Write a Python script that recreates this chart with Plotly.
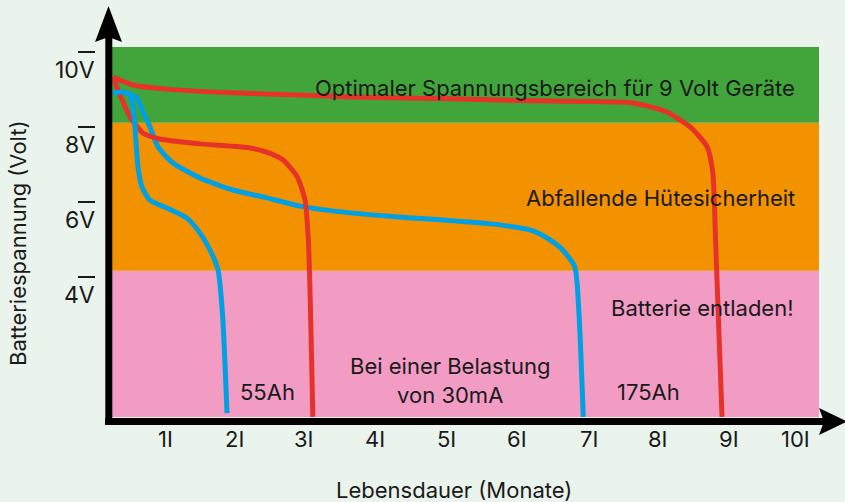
import plotly.graph_objects as go

# ---- data ----
months_tick = [1, 2, 3, 4, 5, 6, 7, 8, 9, 10]
volt_tick = [10, 8, 6, 4]

# red, long life (~9 months)
red_long_x = [0.198, 0.48, 0.96, 1.90, 2.84, 3.55, 4.96, 6.37, 7.54, 8.02, 8.35, 8.59, 8.67, 8.71, 8.80]
red_long_y = [9.33, 9.12, 9.01, 8.91, 8.85, 8.80, 8.75, 8.69, 8.64, 8.40, 8.00, 7.47, 6.77, 4.90, 0.27]
# red, short life (~3 months)
red_short_x = [0.198, 0.297, 0.438, 0.62, 0.86, 1.427, 2.133, 2.37, 2.60, 2.80, 2.91, 2.96, 3.02]
red_short_y = [9.33, 8.85, 8.27, 7.84, 7.68, 7.55, 7.44, 7.33, 7.12, 6.67, 6.05, 4.85, 0.27]
# blue, long life (~7 months)
blue_long_x = [0.198, 0.395, 0.537, 0.621, 0.72, 0.833, 1.045, 1.427, 1.893, 2.373, 2.839, 3.545, 4.25, 5.66, 6.13, 6.37, 6.55, 6.72, 6.78, 6.84]
blue_long_y = [8.91, 8.91, 8.77, 8.40, 8.00, 7.47, 7.04, 6.64, 6.32, 6.11, 5.89, 5.71, 5.60, 5.39, 5.23, 4.99, 4.72, 4.27, 3.00, 0.27]
# blue, short life (~2 months)
blue_short_x = [0.198, 0.339, 0.438, 0.48, 0.508, 0.551, 0.607, 0.72, 0.96, 1.243, 1.427, 1.568, 1.681, 1.745, 1.808]
blue_short_y = [8.91, 8.93, 8.85, 8.53, 8.00, 6.93, 6.40, 6.05, 5.84, 5.57, 5.17, 4.72, 4.19, 3.00, 0.37]

band_edges = [0.267, 4.168, 8.115, 10.133]
band_colors = ["#f29cc4", "#f39200", "#42a53b"]

GREEN_BG = "#eaf4ec"
RED = "#e63329"
BLUE = "#00a0e3"
FONT = "Inter"

# plot area geometry (pixels)
L, R, T, B = 112, 819, 47, 417
W, H = R - L, B - T

def px(x):
    return (x - L) / W

def py(y):
    return (B - y) / H

fig = go.Figure()

for xs, ys, c in [(red_long_x, red_long_y, RED), (blue_long_x, blue_long_y, BLUE),
                  (red_short_x, red_short_y, RED), (blue_short_x, blue_short_y, BLUE)]:
    fig.add_trace(go.Scatter(x=xs, y=ys, mode="lines",
                             line=dict(color=c, width=5, shape="spline", smoothing=0.6),
                             hoverinfo="skip", showlegend=False))

shapes = []
for i in range(3):
    shapes.append(dict(type="rect", xref="paper", yref="y", x0=0, x1=1,
                       y0=band_edges[i], y1=band_edges[i + 1],
                       fillcolor=band_colors[i], line=dict(width=0), layer="below"))

# axes with arrows
shapes.append(dict(type="line", xref="paper", yref="paper", x0=px(108.8), x1=px(108.8),
                   y0=py(425), y1=py(30), line=dict(color="black", width=7)))
shapes.append(dict(type="line", xref="paper", yref="paper", x0=px(105), x1=px(825),
                   y0=py(421.5), y1=py(421.5), line=dict(color="black", width=7)))
shapes.append(dict(type="path", xref="paper", yref="paper",
                   path=f"M {px(95)},{py(42)} L {px(108.5)},{py(6)} L {px(122)},{py(42)} L {px(108.5)},{py(37)} Z",
                   fillcolor="black", line=dict(width=0)))
shapes.append(dict(type="path", xref="paper", yref="paper",
                   path=f"M {px(819)},{py(408)} L {px(847)},{py(421.5)} L {px(819)},{py(435)} L {px(824)},{py(421.5)} Z",
                   fillcolor="black", line=dict(width=0)))

annotations = []
for v in volt_tick:
    shapes.append(dict(type="line", xref="paper", yref="y", x0=px(78), x1=px(95),
                       y0=v, y1=v, line=dict(color="#1a1a1a", width=2)))
    annotations.append(dict(text=f"{v}V", xref="paper", yref="y", x=px(97), y=v,
                            xanchor="right", yanchor="middle", yshift=-18, showarrow=False,
                            font=dict(size=23, color="#1a1a1a", family=FONT)))
for m in months_tick:
    annotations.append(dict(text=f"{m}I", xref="x", yref="paper", x=m, y=py(439),
                            xanchor="right", yanchor="middle", xshift=5, showarrow=False,
                            font=dict(size=22, color="#1a1a1a", family=FONT)))

txt = dict(size=22, color="#1a1a1a", family=FONT)
annotations += [
    dict(text="Optimaler Spannungsbereich für 9 Volt Geräte", xref="paper", yref="paper",
         x=px(797), y=py(88), xanchor="right", yanchor="middle", showarrow=False, font=txt),
    dict(text="Abfallende Hütesicherheit", xref="paper", yref="paper",
         x=px(797), y=py(198), xanchor="right", yanchor="middle", showarrow=False, font=txt),
    dict(text="Batterie entladen!", xref="paper", yref="paper",
         x=px(796), y=py(308), xanchor="right", yanchor="middle", showarrow=False, font=txt),
    dict(text="55Ah", xref="paper", yref="paper",
         x=px(238), y=py(392), xanchor="left", yanchor="middle", showarrow=False, font=txt),
    dict(text="175Ah", xref="paper", yref="paper",
         x=px(615), y=py(392), xanchor="left", yanchor="middle", showarrow=False, font=txt),
    dict(text="Bei einer Belastung<br>von 30mA", xref="paper", yref="paper", align="center",
         x=px(450), y=py(380), xanchor="center", yanchor="middle", showarrow=False, font=txt),
    dict(text="Batteriespannung (Volt)", xref="paper", yref="paper", textangle=-90,
         x=px(18), y=py(243), xanchor="center", yanchor="middle", showarrow=False, font=txt),
    dict(text="Lebensdauer (Monate)", xref="paper", yref="paper",
         x=px(454), y=py(490), xanchor="center", yanchor="middle", showarrow=False, font=txt),
]

fig.update_layout(
    width=845, height=502,
    margin=dict(l=L, r=845 - R, t=T, b=502 - B, pad=0),
    paper_bgcolor=GREEN_BG, plot_bgcolor=GREEN_BG,
    xaxis=dict(range=[(L - 99) / 70.8, (R - 99) / 70.8], showgrid=False, zeroline=False,
               showticklabels=False, ticks="", showline=False, fixedrange=True),
    yaxis=dict(range=[band_edges[0], band_edges[-1]], showgrid=False, zeroline=False,
               showticklabels=False, ticks="", showline=False, fixedrange=True),
    shapes=shapes, annotations=annotations, showlegend=False,
)

fig.write_html(
    "out.html",
    config={"displayModeBar": False},
    post_script="document.body.style.margin='0';document.body.style.background='" + GREEN_BG + "';",
)
